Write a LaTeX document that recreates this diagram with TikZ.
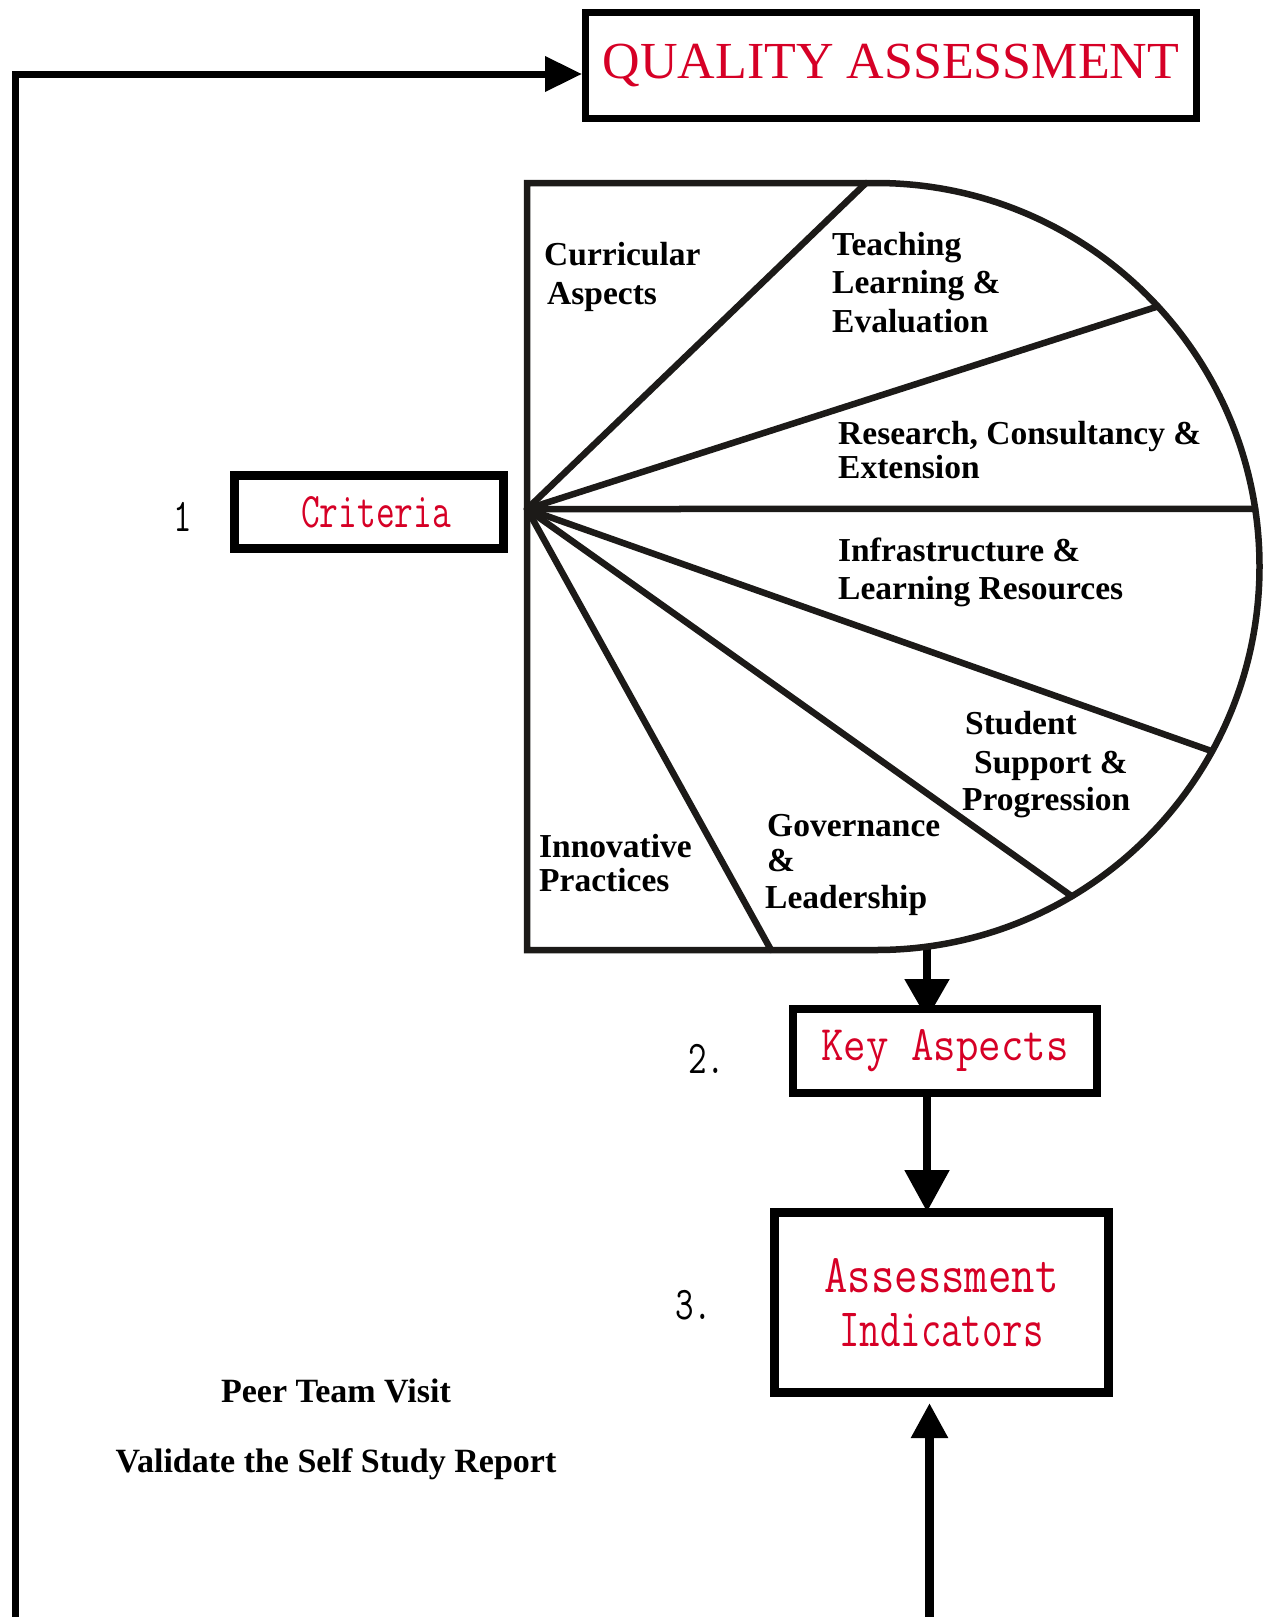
\documentclass[tikz,border=0pt]{standalone}
\usepackage{fontspec}
\setmainfont{Liberation Serif}
\usetikzlibrary{arrows.meta,calc,backgrounds}
\definecolor{qred}{RGB}{214,0,38}
\definecolor{pieink}{RGB}{28,26,24}
\begin{document}
\begin{tikzpicture}[x=1pt,y=-1pt,
  box/.style={draw=black, fill=white, inner sep=0pt, text=qred},
  pietxt/.style={font={\bfseries\fontsize{33.5}{38}\selectfont}, anchor=base west, inner sep=0pt},
  btxt/.style={font={\bfseries\fontsize{34}{38}\selectfont}, anchor=base, inner sep=0pt},
  num/.style={font={\ttfamily\fontsize{36}{36}\selectfont}, inner sep=0pt},
  pieline/.style={draw=pieink, line width=6.5pt, line join=round, line cap=round},
  stem/.style={line width=8.5pt},
  mainline/.style={line width=7pt}]
\useasboundingbox (0,0) rectangle (1264,1617);

% boxes
\node[box, line width=7pt, minimum width=611pt, minimum height=106pt,
      font=\fontsize{52}{52}\selectfont] (qa) at (891,65.5) {QUALITY ASSESSMENT};
\node[box, line width=9pt, minimum width=269pt, minimum height=73pt] (crit) at (369,512)
  {\hspace*{14pt}\resizebox{150pt}{31pt}{\ttfamily\fontsize{36}{36}\selectfont Criteria}};
\node[box, line width=8pt, minimum width=304pt, minimum height=84pt] (ka) at (945,1051)
  {\resizebox{247pt}{31pt}{\ttfamily\fontsize{42}{42}\selectfont Key Aspects}};
\node[box, line width=9pt, minimum width=334pt, minimum height=180pt, align=center,
      font={\ttfamily\fontsize{40}{54}\selectfont}] (ai) at (941.5,1302.5)
  {\resizebox{234pt}{34pt}{Assessment}\\\resizebox{204pt}{33pt}{Indicators}};

% numbers
\node[num, anchor=base] (n1) at (183,531) {\scalebox{1}[1.3]{1}};
\node[num, anchor=base west] (n2) at (688,1073) {\scalebox{1}[1.3]{2.}};
\node[num, anchor=base west] (n3) at (675,1319) {\scalebox{1}[1.3]{3.}};

% pie shape
\coordinate (pc) at (876,566.5);
\coordinate (apex) at (527,509);
\draw[pieline, line cap=butt, line join=miter] (527,183) -- (876,183) arc[start angle=-90, end angle=90, radius=383.5]
  -- (527,950) -- cycle;
\draw[pieline] (apex) -- (866,183);
\draw[pieline] (apex) -- ($(pc)+(-42.7:383.5)$);
\draw[pieline] (apex) -- ($(pc)+(-8.63:383.5)$);
\draw[pieline] (apex) -- ($(pc)+(28.8:383.5)$);
\draw[pieline] (apex) -- ($(pc)+(59.3:383.5)$);
\draw[pieline] (apex) -- (771,950);

% pie texts
\node[pietxt] (c1) at (544,265) {Curricular};
\node[pietxt] (c2) at (547,304) {Aspects};
\node[pietxt] (t1) at (832,255) {Teaching};
\node[pietxt] (t2) at (832,293) {Learning \&};
\node[pietxt] (t3) at (832,332) {Evaluation};
\node[pietxt] (r1) at (838,444) {Research, Consultancy \&};
\node[pietxt] (r2) at (838,478) {Extension};
\node[pietxt] (i1) at (838,561) {Infrastructure \&};
\node[pietxt] (i2) at (838,599) {Learning Resources};
\node[pietxt] (s1) at (965,734) {Student};
\node[pietxt] (s2) at (974,773) {Support \&};
\node[pietxt] (s3) at (962,810) {Progression};
\node[pietxt] (g1) at (767,836) {Governance};
\node[pietxt] (g2) at (767,871) {\&};
\node[pietxt] (g3) at (765,908) {Leadership};
\node[pietxt] (p1) at (539,857) {Innovative};
\node[pietxt] (p2) at (539,891) {Practices};

% bottom-left texts
\node[btxt] (peer) at (336,1402) {Peer Team Visit};
\node[btxt] (valid) at (336,1472) {Validate the Self Study Report};

% connectors
\coordinate (bl) at (15.5,1625);
\coordinate (pieB) at (927,946);
\coordinate (botA) at (929.5,1625);
\draw[mainline, -{Triangle[length=37pt,width=34pt]}] (bl) |- ($(qa.west)+(0,8.5)$);
\begin{scope}[on background layer]
\fill[white] (0,0) rectangle (1264,1617);
\draw[stem, -{Triangle[length=40pt,width=43pt]}] (pieB) -- ($(pieB |- ka.north)+(0,14)$);
\draw[stem, -{Triangle[length=42pt,width=43pt]}] (pieB |- ka.south) -- ($(pieB |- ai.north)+(0,4)$);
\draw[stem, -{Triangle[length=35pt,width=35pt]}] (botA) -- ($(botA |- ai.south)+(0,6)$);
\end{scope}
\end{tikzpicture}
\end{document}
